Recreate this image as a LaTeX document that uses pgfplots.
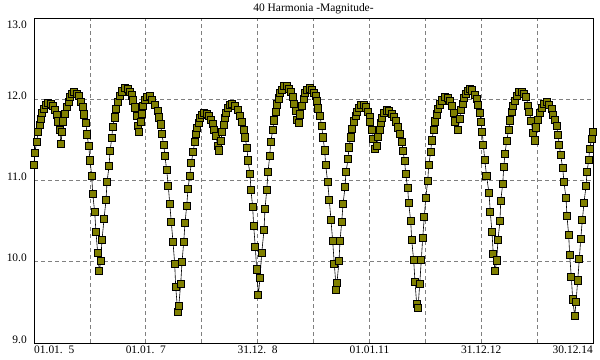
\documentclass[border=0pt]{standalone}
\usepackage{fontspec}
\setmainfont{Liberation Serif}
\usepackage{pgfplots}
\pgfplotsset{compat=1.18}
\definecolor{olivemark}{RGB}{128,128,0}
\definecolor{gridgray}{RGB}{128,128,128}
\begin{document}
\begin{tikzpicture}
\begin{axis}[
  at={(0,0)}, anchor=south west,
  scale only axis, width=559bp, height=325bp,
  xmin=2005, xmax=2015, ymin=9, ymax=13,
  clip=false,
  axis line style={line width=0.9bp, black},
  font=\fontsize{11.5}{13}\selectfont,
  xtick={2006,2007,2008,2009,2010,2011,2012,2013,2014},
  xticklabels={{},{01.01.\hphantom{1}7},{},{31.12.\hphantom{1}8},{},{01.01.11},{},{31.12.12},{}},
  ytick={9,10,11,12},
  yticklabels={9.0,10.0,11.0,12.0},
  xmajorgrids, ymajorgrids,
  grid style={gridgray, line width=0.7bp, dash pattern=on 4bp off 3bp},
  major tick length=0pt,
  xticklabel style={anchor=north, inner sep=0pt, yshift=-3bp},
  yticklabel style={anchor=east, inner sep=0pt, xshift=-7bp, yshift=3.5bp},
]
\addplot[black, line width=0.6bp, mark=square*, mark size=3.6bp,
  mark options={fill=olivemark, draw=black, line width=0.9bp, solid}] table {
x y
2005.000 11.187
2005.013 11.335
2005.048 11.475
2005.072 11.593
2005.102 11.688
2005.125 11.761
2005.148 11.827
2005.179 11.881
2005.215 11.930
2005.256 11.955
2005.299 11.946
2005.335 11.913
2005.370 11.872
2005.406 11.811
2005.429 11.728
2005.465 11.618
2005.478 11.445
2005.506 11.598
2005.524 11.728
2005.560 11.823
2005.590 11.905
2005.621 11.967
2005.644 12.028
2005.680 12.069
2005.721 12.085
2005.764 12.069
2005.810 12.036
2005.835 11.971
2005.871 11.905
2005.889 11.814
2005.930 11.704
2005.948 11.568
2005.979 11.421
2006.002 11.248
2006.032 11.060
2006.050 10.839
2006.086 10.609
2006.109 10.363
2006.140 10.105
2006.168 9.883
2006.193 10.006
2006.216 10.264
2006.252 10.523
2006.288 10.756
2006.306 10.978
2006.342 11.175
2006.360 11.359
2006.390 11.519
2006.408 11.663
2006.444 11.777
2006.467 11.876
2006.497 11.962
2006.538 12.036
2006.580 12.097
2006.628 12.139
2006.676 12.127
2006.712 12.093
2006.748 12.048
2006.776 11.986
2006.807 11.900
2006.837 11.790
2006.866 11.667
2006.878 11.593
2006.909 11.724
2006.927 11.823
2006.955 11.913
2006.991 11.995
2007.027 12.028
2007.075 12.036
2007.116 11.995
2007.165 11.934
2007.213 11.860
2007.236 11.777
2007.267 11.691
2007.284 11.577
2007.320 11.442
2007.343 11.298
2007.374 11.125
2007.403 10.929
2007.428 10.716
2007.456 10.486
2007.487 10.240
2007.517 9.974
2007.535 9.686
2007.571 9.387
2007.589 9.453
2007.624 9.723
2007.648 9.994
2007.678 10.240
2007.701 10.474
2007.732 10.691
2007.755 10.892
2007.785 11.060
2007.814 11.212
2007.844 11.347
2007.875 11.470
2007.893 11.573
2007.921 11.642
2007.952 11.708
2007.975 11.770
2008.000 11.811
2008.047 11.831
2008.095 11.819
2008.131 11.790
2008.166 11.749
2008.202 11.696
2008.225 11.626
2008.256 11.544
2008.286 11.429
2008.309 11.371
2008.345 11.482
2008.363 11.593
2008.394 11.684
2008.417 11.765
2008.440 11.831
2008.476 11.893
2008.512 11.934
2008.547 11.946
2008.596 11.921
2008.644 11.872
2008.685 11.798
2008.716 11.716
2008.751 11.626
2008.775 11.531
2008.810 11.396
2008.828 11.248
2008.864 11.076
2008.882 10.879
2008.912 10.670
2008.930 10.437
2008.959 10.178
2008.984 9.904
2009.013 9.588
2009.043 9.797
2009.073 10.105
2009.114 10.387
2009.132 10.646
2009.163 10.879
2009.186 11.101
2009.216 11.298
2009.234 11.470
2009.270 11.618
2009.293 11.740
2009.324 11.847
2009.347 11.937
2009.383 12.011
2009.401 12.077
2009.431 12.118
2009.478 12.159
2009.521 12.159
2009.562 12.127
2009.597 12.085
2009.628 12.028
2009.651 11.946
2009.682 11.860
2009.710 11.749
2009.735 11.704
2009.758 11.814
2009.789 11.921
2009.825 12.004
2009.853 12.077
2009.889 12.118
2009.937 12.134
2009.979 12.118
2010.014 12.077
2010.039 12.036
2010.063 11.974
2010.086 11.888
2010.116 11.790
2010.147 11.667
2010.170 11.531
2010.200 11.371
2010.218 11.187
2010.254 10.978
2010.283 10.756
2010.313 10.510
2010.343 10.252
2010.372 9.974
2010.408 9.649
2010.420 9.740
2010.456 10.006
2010.474 10.252
2010.504 10.486
2010.528 10.707
2010.563 10.916
2010.581 11.101
2010.617 11.261
2010.635 11.408
2010.666 11.531
2010.694 11.635
2010.719 11.728
2010.755 11.795
2010.778 11.847
2010.809 11.893
2010.850 11.930
2010.898 11.930
2010.934 11.900
2010.970 11.847
2011.005 11.782
2011.016 11.716
2011.052 11.626
2011.070 11.512
2011.100 11.389
2011.136 11.421
2011.159 11.536
2011.184 11.626
2011.202 11.708
2011.231 11.770
2011.266 11.831
2011.309 11.863
2011.351 11.856
2011.399 11.823
2011.440 11.782
2011.476 11.728
2011.517 11.654
2011.542 11.573
2011.583 11.479
2011.601 11.359
2011.631 11.236
2011.649 11.076
2011.685 10.904
2011.703 10.720
2011.739 10.498
2011.757 10.264
2011.792 10.018
2011.816 9.748
2011.846 9.477
2011.869 9.428
2011.900 9.723
2011.928 10.018
2011.953 10.289
2011.982 10.547
2012.007 10.781
2012.043 10.990
2012.061 11.187
2012.097 11.355
2012.114 11.494
2012.150 11.618
2012.168 11.728
2012.204 11.814
2012.227 11.881
2012.268 11.937
2012.304 11.986
2012.352 12.028
2012.401 12.016
2012.442 11.983
2012.472 11.921
2012.508 11.831
2012.531 11.728
2012.580 11.626
2012.621 11.761
2012.633 11.872
2012.669 11.946
2012.698 12.016
2012.723 12.069
2012.758 12.106
2012.800 12.127
2012.841 12.109
2012.889 12.057
2012.930 12.004
2012.948 11.925
2012.978 11.831
2012.996 11.716
2013.020 11.593
2013.038 11.438
2013.063 11.257
2013.095 11.060
2013.139 10.847
2013.163 10.609
2013.193 10.363
2013.216 10.092
2013.247 9.883
2013.277 10.015
2013.300 10.264
2013.336 10.507
2013.349 10.744
2013.385 10.962
2013.403 11.162
2013.426 11.331
2013.456 11.491
2013.492 11.626
2013.515 11.740
2013.551 11.839
2013.574 11.913
2013.599 11.983
2013.635 12.044
2013.676 12.085
2013.724 12.093
2013.766 12.069
2013.801 12.028
2013.843 11.921
2013.860 11.839
2013.896 11.733
2013.921 11.585
2013.962 11.494
2013.980 11.654
2014.016 11.749
2014.052 11.831
2014.088 11.893
2014.123 11.946
2014.172 11.962
2014.218 11.934
2014.261 11.881
2014.290 11.811
2014.326 11.749
2014.351 11.667
2014.374 11.556
2014.397 11.442
2014.422 11.310
2014.458 11.150
2014.481 10.978
2014.517 10.781
2014.535 10.560
2014.565 10.326
2014.583 10.080
2014.612 9.809
2014.637 9.535
2014.673 9.330
2014.696 9.502
2014.726 9.769
2014.755 10.031
2014.780 10.277
2014.809 10.510
2014.839 10.728
2014.875 10.929
2014.893 11.101
2014.923 11.257
2014.941 11.389
2014.977 11.512
2014.995 11.593
};
\node[anchor=base, inner sep=0pt, yshift=6.5bp] at (rel axis cs:0.5,1) {40 Harmonia -Magnitude-};
\node[anchor=east, inner sep=0pt, xshift=-7bp, yshift=-6.5bp] at (rel axis cs:0,1) {13.0};
\node[anchor=north west, inner sep=0pt, yshift=-3bp] at (rel axis cs:0,0) {01.01.\hphantom{1}5};
\node[anchor=north east, inner sep=0pt, yshift=-3bp] at (rel axis cs:1,0) {30.12.14};
\end{axis}
\path (-34bp,-17bp) rectangle (566bp,343bp);
\end{tikzpicture}
\end{document}
